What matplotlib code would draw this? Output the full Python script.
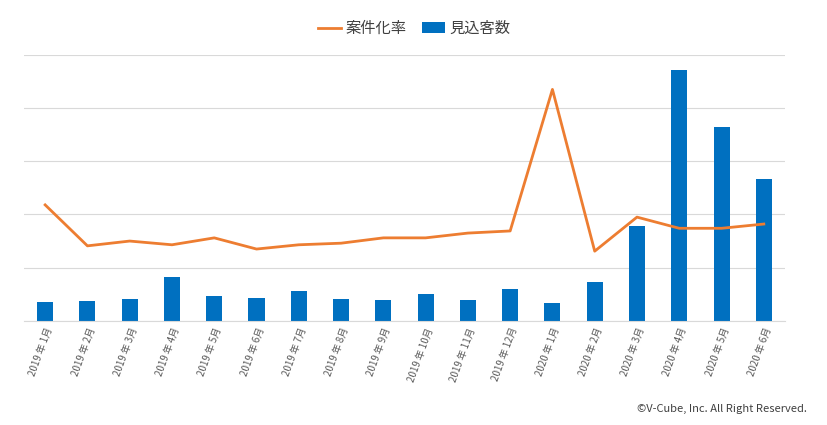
import matplotlib
matplotlib.use("Agg")
import matplotlib.pyplot as plt

plt.rcParams['font.family'] = ['Noto Sans CJK JP', 'DejaVu Sans']

labels = ["2019 年 1月","2019 年 2月","2019 年 3月","2019 年 4月","2019 年 5月","2019 年 6月",
          "2019 年 7月","2019 年 8月","2019 年 9月","2019 年 10月","2019 年 11月","2019 年 12月",
          "2020 年 1月","2020 年 2月","2020 年 3月","2020 年 4月","2020 年 5月","2020 年 6月"]
prospects = [0.36,0.375,0.41,0.83,0.47,0.43,0.56,0.41,0.39,0.51,0.39,0.60,0.34,0.73,1.78,4.71,3.64,2.66]
conv_rate = [2.18,1.41,1.50,1.43,1.56,1.35,1.43,1.46,1.56,1.56,1.65,1.69,4.35,1.31,1.95,1.74,1.74,1.82]

fig = plt.figure(figsize=(8.28,4.25), dpi=100)
ax = fig.add_axes([0.029,0.245,0.919,0.626])
x = range(len(labels))
ax.bar(x, prospects, width=0.38, color='#0070C0', label='見込客数', zorder=2)
ax.plot(x, conv_rate, color='#ED7D31', lw=2, label='案件化率', zorder=3)
ax.set_ylim(0,5)
ax.set_xlim(-0.5, len(labels)-0.5)
ax.set_yticks([0,1,2,3,4,5])
ax.set_yticklabels([])
ax.tick_params(axis='y', length=0)
ax.tick_params(axis='x', length=0, pad=4)
ax.grid(axis='y', color='#D9D9D9', lw=0.8, zorder=0)
for s in ['top','right','left']:
    ax.spines[s].set_visible(False)
ax.spines['bottom'].set_color('#D9D9D9')
ax.set_xticks(list(x))
ax.set_xticklabels(labels, rotation=70, ha='right', rotation_mode='anchor', fontsize=7, color='#595959', style='italic')
fig.legend(loc='upper center', bbox_to_anchor=(0.5,0.985), ncol=2, frameon=False, fontsize=11,
           handlelength=1.5, columnspacing=1.0, handletextpad=0.3, labelcolor='#404040')
fig.text(0.975, 0.03, '©V-Cube, Inc. All Right Reserved.', ha='right', fontsize=8, color='#404040')
fig.savefig('out.png', dpi=100)
